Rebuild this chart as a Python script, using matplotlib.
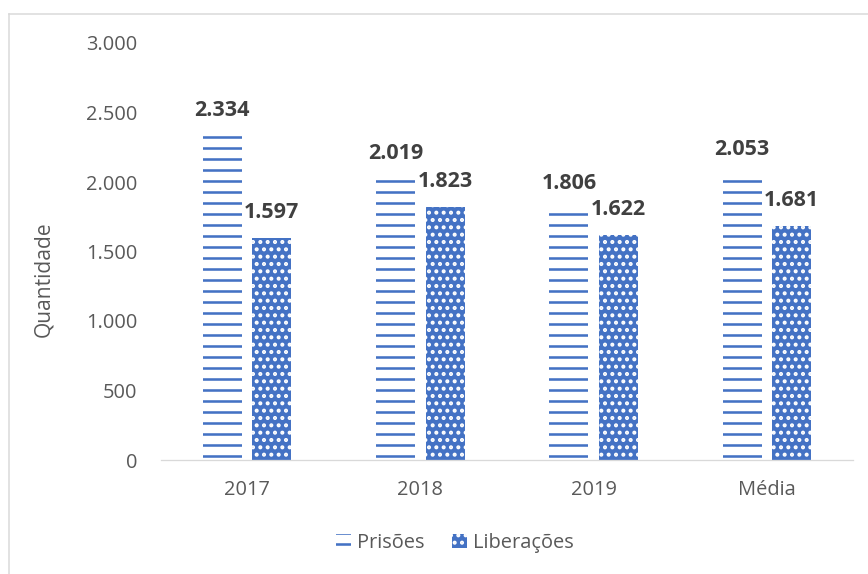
import matplotlib
matplotlib.use("Agg")
import matplotlib.pyplot as plt
from matplotlib.ticker import FuncFormatter
from matplotlib.lines import Line2D
import numpy as np

categories = ["2017", "2018", "2019", "Média"]
prisoes = [2334, 2019, 1806, 2053]
liberacoes = [1597, 1823, 1622, 1681]
yticks = [0, 500, 1000, 1500, 2000, 2500, 3000]
series_names = ["Prisões", "Liberações"]

DPI = 132
W, H = 868, 574
def px(v):
    return v * 72.0 / DPI

plt.rcParams['font.family'] = ['Open Sans', 'DejaVu Sans']
plt.rcParams['hatch.linewidth'] = 1.4

fig = plt.figure(figsize=(W / DPI, H / DPI), dpi=DPI)
ax_l, ax_r, ax_b, ax_t = 160.5, 853.5, 460, 43
ax = fig.add_axes([ax_l / W, 1 - ax_b / H, (ax_r - ax_l) / W, (ax_b - ax_t) / H])

blue = "#4472C4"
x = np.arange(len(categories))
off = 0.143
bw = 0.225

b1 = ax.bar(x - off, prisoes, bw, facecolor="white", edgecolor=blue, linewidth=0,
            hatch="--", label=series_names[0])
b2 = ax.bar(x + off, liberacoes, bw, facecolor=blue, edgecolor="white", linewidth=0,
            hatch="...", label=series_names[1])

def fmt(v):
    return f"{int(v):,}".replace(",", ".")

for bars, vals in ((b1, prisoes), (b2, liberacoes)):
    for r, v in zip(bars, vals):
        ax.annotate(fmt(v), (r.get_x() + r.get_width() / 2, v),
                    xytext=(0, px(25.5)), textcoords="offset points",
                    ha="center", va="center", fontsize=px(21.5),
                    fontweight="bold", color="#404040")

ax.set_xlim(-0.5, len(categories) - 0.5)
ax.set_ylim(0, 3000)
ax.set_yticks(yticks)
ax.yaxis.set_major_formatter(FuncFormatter(lambda v, p: fmt(v)))
ax.set_xticks(x)
ax.set_xticklabels(categories)
ax.tick_params(axis="both", length=0, labelsize=px(20), labelcolor="#595959")
ax.tick_params(axis="y", pad=px(23))
ax.tick_params(axis="x", pad=px(20))

for s in ("top", "right", "left"):
    ax.spines[s].set_visible(False)
ax.spines["bottom"].set_color("#d9d9d9")
ax.spines["bottom"].set_linewidth(px(1.3))

ax.set_ylabel("Quantidade", fontsize=px(21), color="#595959")
ax.yaxis.set_label_coords((54 - ax_l) / (ax_r - ax_l), (ax_b - 279) / (ax_b - ax_t))

fig.legend(loc="center", bbox_to_anchor=(455 / W, 1 - 543 / H), ncol=2,
           frameon=False, fontsize=px(20), labelcolor="#595959",
           handlelength=0.75, handleheight=0.65, handletextpad=0.3,
           columnspacing=1.4)

# chart border
fig.add_artist(Line2D([8.5 / W, 1], [1 - 13.5 / H, 1 - 13.5 / H],
                      transform=fig.transFigure, color="#d9d9d9", linewidth=px(1.5)))
fig.add_artist(Line2D([8.5 / W, 8.5 / W], [0, 1 - 13.5 / H],
                      transform=fig.transFigure, color="#d9d9d9", linewidth=px(1.5)))

fig.savefig("out.png", dpi=DPI)
